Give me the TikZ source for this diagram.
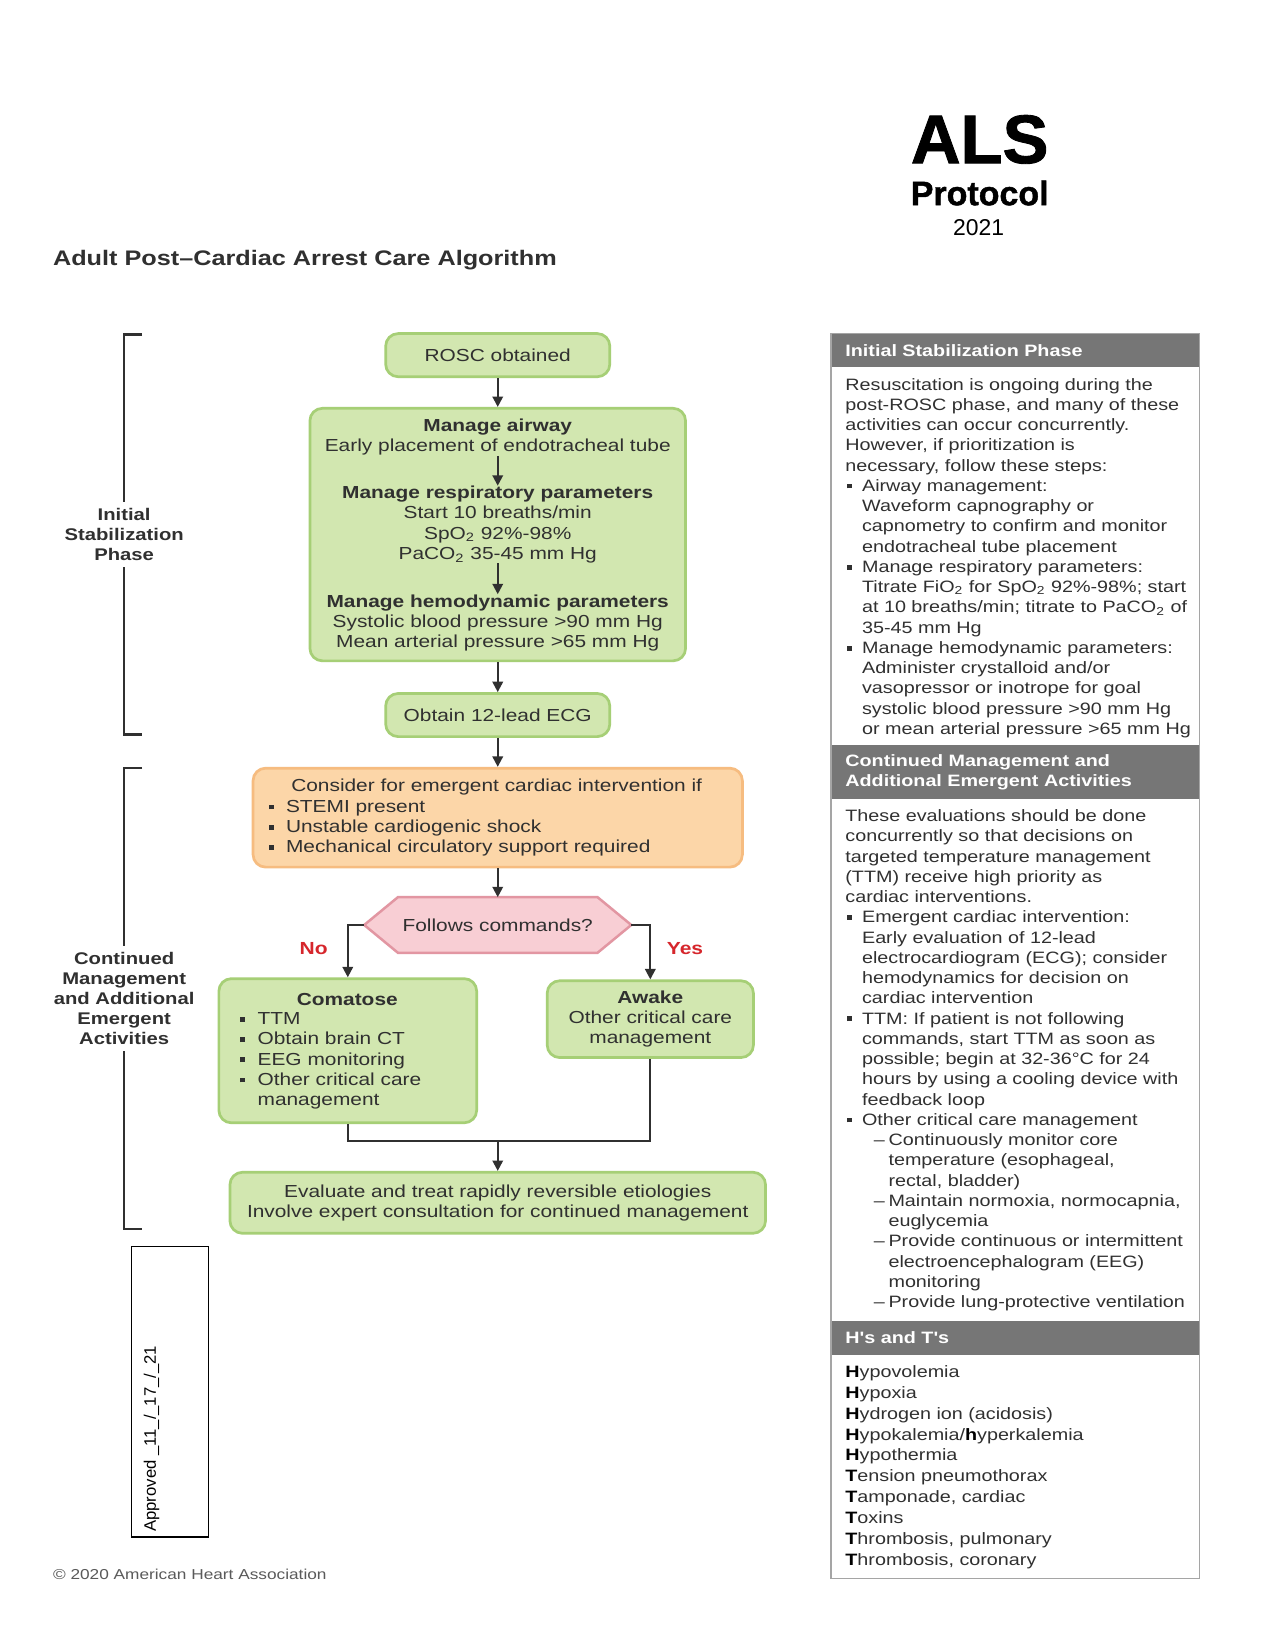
\documentclass[tikz,border=0pt]{standalone}
\usepackage{fontspec}
\setmainfont{Liberation Sans}
\newfontfamily\wide[FakeStretch=1.2]{Liberation Sans}
\newfontfamily\heavy[FakeBold=1.3]{Liberation Sans}
\usetikzlibrary{arrows.meta,calc}

\definecolor{ink}{RGB}{48,48,48}
\definecolor{gfill}{RGB}{210,231,176}
\definecolor{gedge}{RGB}{166,207,118}
\definecolor{ofill}{RGB}{252,214,168}
\definecolor{oedge}{RGB}{246,188,128}
\definecolor{pfill}{RGB}{248,206,212}
\definecolor{pedge}{RGB}{226,150,162}
\definecolor{hdr}{RGB}{118,118,118}
\definecolor{pborder}{RGB}{165,165,165}
\definecolor{alert}{RGB}{214,38,44}
\definecolor{note}{RGB}{90,90,90}

\newcommand\pxu[1]{#1*0.505bp}
\newcommand\bsq{\raisebox{1.4bp}{\rule{2.3bp}{2.3bp}}}
% side panel indents
\newcommand\pbit{\makebox[8bp][l]{\hspace{1bp}\bsq}}
\newcommand\pind{\hspace{8bp}}
\newcommand\psub{\hspace{13.6bp}\makebox[7.1bp][l]{–}}
\newcommand\psubind{\hspace{20.7bp}}
% flowchart bullets
\newcommand\fbit{\makebox[8.3bp][l]{\bsq}}
\newcommand\find{\hspace{8.3bp}}
\newcommand\hb[1]{\textcolor{black}{\textbf{#1}}}

\begin{document}
\begin{tikzpicture}[x=0.505bp,y=-0.505bp,
  txt/.style={font=\wide\fontsize{8.35bp}{9.7bp}\selectfont, text=ink, inner sep=0pt},
  ptxt/.style={font=\wide\fontsize{7.9bp}{9.72bp}\selectfont, text=ink, inner sep=0pt, align=left, anchor=north west},
  hd/.style={font=\wide\bfseries\fontsize{7.9bp}{9.6bp}\selectfont, text=white, inner sep=0pt, align=left, anchor=west},
  gbox/.style={draw=gedge, fill=gfill, line width=1.3bp, rounded corners=6bp, inner sep=0pt},
  obox/.style={draw=oedge, fill=ofill, line width=1.3bp, rounded corners=6bp, inner sep=0pt},
  flow/.style={draw=ink, line width=1bp, -{Triangle[length=5bp,width=5bp]}},
  link/.style={draw=ink, line width=1bp},
  brk/.style={draw=ink, line width=1.2bp},
  phase/.style={font=\wide\bfseries\fontsize{8.1bp}{9.6bp}\selectfont, text=ink, align=center, fill=white, inner xsep=0pt, inner ysep=3bp},
  yn/.style={font=\wide\bfseries\fontsize{8.4bp}{10bp}\selectfont, text=alert, inner sep=0pt},
]
\fill[white] (0,0) rectangle (1212,1568);
\useasboundingbox (0,0) rectangle (1212,1568);

% ---- heading block ----
\node[font=\heavy\bfseries\fontsize{33bp}{35bp}\selectfont, anchor=base, inner sep=0pt] (als) at (931,155) {ALS};
\node[font=\heavy\bfseries\fontsize{16.3bp}{18bp}\selectfont, anchor=base, inner sep=0pt] (proto) at (931,195) {Protocol};
\node[font=\fontsize{11bp}{13bp}\selectfont, anchor=base, inner sep=0pt] (year) at (930,224) {2021};
\node[font=\wide\bfseries\fontsize{10.1bp}{12bp}\selectfont, text=ink, anchor=west, inner sep=0pt] (title) at (50,247) {Adult Post–Cardiac Arrest Care Algorithm};

% ---- phase brackets ----
\draw[brk] (135,318) -- (118,318) -- (118,698) -- (135,698);
\node[phase] (ph1) at (118,508) {Initial\\Stabilization\\Phase};
\draw[brk] (135,730) -- (118,730) -- (118,1168) -- (135,1168);
\node[phase] (ph2) at (118,949) {Continued\\Management\\and Additional\\Emergent\\Activities};

% ---- flowchart ----
\node[gbox, txt, minimum width=\pxu{213}, minimum height=\pxu{41}] (rosc) at (473,337.5) {ROSC obtained};

\node[gbox, minimum width=\pxu{357}, minimum height=\pxu{240}] (stab) at (473,508) {};
\node[txt, align=center] (air) at (473,415.5) {\textbf{Manage airway}\\Early placement of endotracheal tube};
\node[txt, align=center] (resp) at (473,498.5) {\textbf{Manage respiratory parameters}\\Start 10 breaths/min\\SpO\textsubscript{2} 92\%-98\%\\PaCO\textsubscript{2} 35-45 mm Hg};
\node[txt, align=center] (hemo) at (473,592) {\textbf{Manage hemodynamic parameters}\\Systolic blood pressure >90 mm Hg\\Mean arterial pressure >65 mm Hg};

\node[gbox, txt, minimum width=\pxu{213}, minimum height=\pxu{41}] (ecg) at (473,679.5) {Obtain 12-lead ECG};

\node[obox, minimum width=\pxu{465}, minimum height=\pxu{94}] (cardiac) at (473,777) {};
\node[txt] (cardt) at (472,748) {Consider for emergent cardiac intervention if};
\node[txt, align=left, anchor=north west] (cardl) at (255,760) {\fbit STEMI present\\\fbit Unstable cardiogenic shock\\\fbit Mechanical circulatory support required};

\node[minimum width=\pxu{253}, minimum height=\pxu{52}, inner sep=0pt] (follow) at (473,879) {};
\draw[fill=pfill, draw=pedge, line width=1.2bp] (follow.west) -- ($(follow.north west)+(32,0)$) -- ($(follow.north east)+(-32,0)$) -- (follow.east) -- ($(follow.south east)+(-32,0)$) -- ($(follow.south west)+(32,0)$) -- cycle;
\node[txt] (followt) at (follow.center) {Follows commands?};

\node[gbox, minimum width=\pxu{245}, minimum height=\pxu{137}] (coma) at (330.5,998.5) {};
\node[txt] (comat) at (330,950) {\textbf{Comatose}};
\node[txt, align=left, anchor=north west] (comal) at (228,962) {\fbit TTM\\\fbit Obtain brain CT\\\fbit EEG monitoring\\\fbit Other critical care\\\find management};

\node[gbox, txt, align=center, minimum width=\pxu{196}, minimum height=\pxu{73}] (awake) at (618,968.5) {\textbf{Awake}\\Other critical care\\management};

\node[gbox, txt, align=center, minimum width=\pxu{509}, minimum height=\pxu{58}] (eval) at (473,1143) {Evaluate and treat rapidly reversible etiologies\\Involve expert consultation for continued management};

\node[yn] (no) at (298,901) {No};
\node[yn] (yes) at (651,901) {Yes};

% connectors
\draw[flow] (rosc) -- (stab);
\draw[flow] (air) -- (resp);
\draw[flow] (resp) -- (hemo);
\draw[flow] (stab) -- (ecg);
\draw[flow] (ecg) -- (cardiac);
\draw[flow] (cardiac) -- (follow);
\draw[flow] (follow.west) -| (coma.north);
\draw[flow] (follow.east) -| (awake.north);
\coordinate (merge) at (473,1084);
\draw[link] (coma.south) |- (merge) -| (awake.south);
\draw[flow] (merge) -- (eval);

% ---- approval stamp and credit ----
\node[draw=black, line width=0.6bp, minimum width=\pxu{73}, minimum height=\pxu{276}, inner sep=0pt] (appr) at (161.5,1322.5) {};
\node[rotate=90, anchor=west, inner sep=0pt, font=\fontsize{8bp}{9.6bp}\selectfont] (apprt) at (144,1456) {Approved \_11\_/\_17\_/\_21};
\node[anchor=west, inner sep=0pt, font=\wide\fontsize{6.9bp}{8bp}\selectfont, text=note] (copy) at (50,1496) {© 2020 American Heart Association};

% ---- side panel ----
\fill[hdr] (790,317) rectangle (1140,349);
\fill[hdr] (790,708) rectangle (1140,759);
\fill[hdr] (790,1255) rectangle (1140,1288);
\draw[pborder, line width=0.8bp] (790,317) rectangle (1140,1500);

\node[hd] (h1) at (803,333) {Initial Stabilization Phase};
\node[hd] (h2) at (803,733.5) {Continued Management and\\Additional Emergent Activities};
\node[hd] (h3) at (803,1271) {H's and T's};

\node[ptxt] (b1) at (803,359) {Resuscitation is ongoing during the\\
post-ROSC phase, and many of these\\
activities can occur concurrently.\\
However, if prioritization is\\
necessary, follow these steps:\\
\pbit Airway management:\\
\pind Waveform capnography or\\
\pind capnometry to confirm and monitor\\
\pind endotracheal tube placement\\
\pbit Manage respiratory parameters:\\
\pind Titrate FiO\textsubscript{2} for SpO\textsubscript{2} 92\%-98\%; start\\
\pind at 10 breaths/min; titrate to PaCO\textsubscript{2} of\\
\pind 35-45 mm Hg\\
\pbit Manage hemodynamic parameters:\\
\pind Administer crystalloid and/or\\
\pind vasopressor or inotrope for goal\\
\pind systolic blood pressure >90 mm Hg\\
\pind or mean arterial pressure >65 mm Hg};

\node[ptxt] (b2) at (803,769) {These evaluations should be done\\
concurrently so that decisions on\\
targeted temperature management\\
(TTM) receive high priority as\\
cardiac interventions.\\
\pbit Emergent cardiac intervention:\\
\pind Early evaluation of 12-lead\\
\pind electrocardiogram (ECG); consider\\
\pind hemodynamics for decision on\\
\pind cardiac intervention\\
\pbit TTM: If patient is not following\\
\pind commands, start TTM as soon as\\
\pind possible; begin at 32-36°C for 24\\
\pind hours by using a cooling device with\\
\pind feedback loop\\
\pbit Other critical care management\\
\psub Continuously monitor core\\
\psubind temperature (esophageal,\\
\psubind rectal, bladder)\\
\psub Maintain normoxia, normocapnia,\\
\psubind euglycemia\\
\psub Provide continuous or intermittent\\
\psubind electroencephalogram (EEG)\\
\psubind monitoring\\
\psub Provide lung-protective ventilation};

\node[ptxt, font=\wide\fontsize{7.9bp}{10.05bp}\selectfont] (b3) at (803,1297) {\hb{H}ypovolemia\\
\hb{H}ypoxia\\
\hb{H}ydrogen ion (acidosis)\\
\hb{H}ypokalemia/\hb{h}yperkalemia\\
\hb{H}ypothermia\\
\hb{T}ension pneumothorax\\
\hb{T}amponade, cardiac\\
\hb{T}oxins\\
\hb{T}hrombosis, pulmonary\\
\hb{T}hrombosis, coronary};
\end{tikzpicture}
\end{document}
